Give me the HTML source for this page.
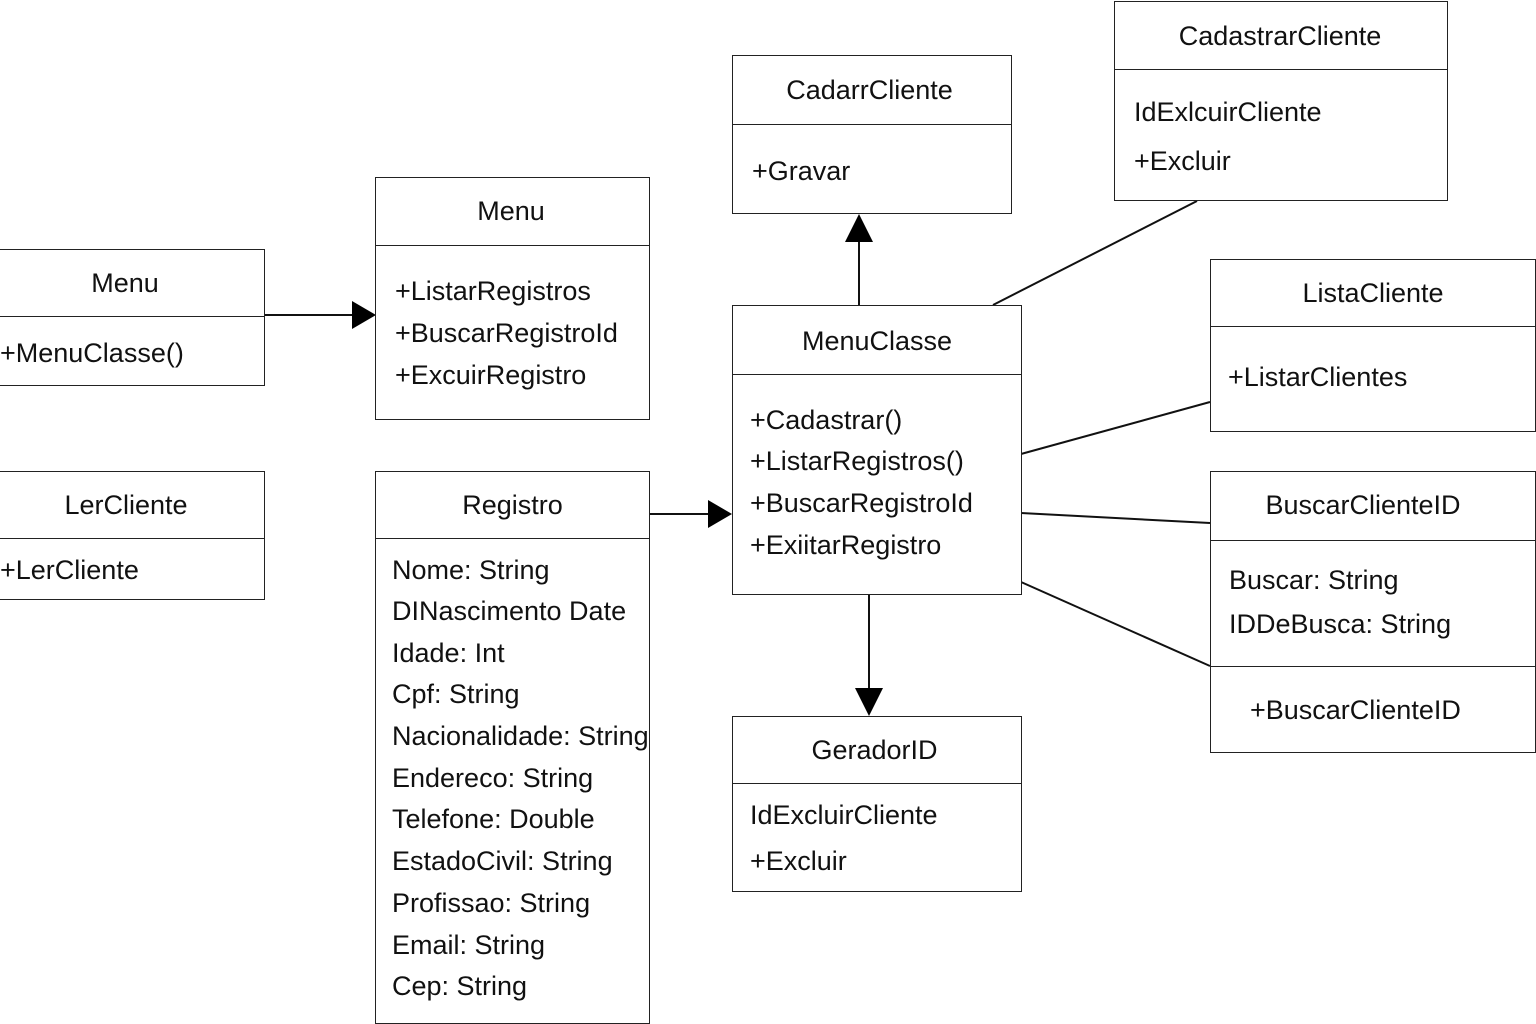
<!DOCTYPE html>
<html><head><meta charset="utf-8"><style>
html,body{margin:0;padding:0;background:#fff;}
body{width:1536px;height:1024px;position:relative;overflow:hidden;font-family:"Liberation Sans",sans-serif;color:#111;}
.b{position:absolute;border:1.5px solid #222;box-sizing:border-box;background:#fff;}
.d{position:absolute;left:0;right:0;border-top:1.5px solid #222;}
.t{position:absolute;font-size:27px;white-space:nowrap;line-height:1;}
.c{left:0;right:0;text-align:center;}
svg{position:absolute;left:0;top:0;}
</style></head><body>
<svg width="1536" height="1024">
<g stroke="#111" stroke-width="2" fill="none">
<line x1="264" y1="315" x2="356" y2="315"/>
<line x1="649" y1="514" x2="710" y2="514"/>
<line x1="859" y1="305" x2="859" y2="242"/>
<line x1="869" y1="594" x2="869" y2="688"/>
<line x1="993" y1="305" x2="1197" y2="201"/>
<line x1="1021" y1="454" x2="1210" y2="402"/>
<line x1="1021" y1="513" x2="1210" y2="523"/>
<line x1="1021" y1="582" x2="1210" y2="666"/>
</g>
<g fill="#000">
<polygon points="352,301 376,315 352,329"/>
<polygon points="708,500 732,514 708,528"/>
<polygon points="845,242 859,214 873,242"/>
<polygon points="855,688 883,688 869,716"/>
</g>
</svg>

<div class="b" style="left:-2px;top:249px;width:267px;height:137px"><div class="d" style="top:66px"></div></div>
<div class="t c" style="left:0;width:250px;top:270px">Menu</div>
<div class="t" style="left:0;top:340px">+MenuClasse()</div>

<div class="b" style="left:-2px;top:471px;width:267px;height:129px"><div class="d" style="top:66px"></div></div>
<div class="t c" style="left:0;width:252px;top:492px">LerCliente</div>
<div class="t" style="left:0;top:557px">+LerCliente</div>

<div class="b" style="left:375px;top:177px;width:275px;height:243px"><div class="d" style="top:67px"></div></div>
<div class="t c" style="left:375px;width:272px;top:198px">Menu</div>
<div class="t" style="left:395px;top:278px">+ListarRegistros</div>
<div class="t" style="left:395px;top:320px">+BuscarRegistroId</div>
<div class="t" style="left:395px;top:362px">+ExcuirRegistro</div>

<div class="b" style="left:375px;top:471px;width:275px;height:553px"><div class="d" style="top:66px"></div></div>
<div class="t c" style="left:375px;width:275px;top:492px">Registro</div>
<div style="position:absolute;left:392px;top:0;width:256px;height:1024px;overflow:hidden">
<div class="t" style="left:0;top:557px">Nome: String</div>
<div class="t" style="left:0;top:598px">DINascimento Date</div>
<div class="t" style="left:0;top:640px">Idade: Int</div>
<div class="t" style="left:0;top:681px">Cpf: String</div>
<div class="t" style="left:0;top:723px">Nacionalidade: String</div>
<div class="t" style="left:0;top:765px">Endereco: String</div>
<div class="t" style="left:0;top:806px">Telefone: Double</div>
<div class="t" style="left:0;top:848px">EstadoCivil: String</div>
<div class="t" style="left:0;top:890px">Profissao: String</div>
<div class="t" style="left:0;top:932px">Email: String</div>
<div class="t" style="left:0;top:973px">Cep: String</div>
</div>

<div class="b" style="left:732px;top:55px;width:280px;height:159px"><div class="d" style="top:68px"></div></div>
<div class="t c" style="left:732px;width:275px;top:77px">CadarrCliente</div>
<div class="t" style="left:752px;top:158px">+Gravar</div>

<div class="b" style="left:732px;top:305px;width:290px;height:290px"><div class="d" style="top:68px"></div></div>
<div class="t c" style="left:732px;width:290px;top:328px">MenuClasse</div>
<div class="t" style="left:750px;top:407px">+Cadastrar()</div>
<div class="t" style="left:750px;top:448px">+ListarRegistros()</div>
<div class="t" style="left:750px;top:490px">+BuscarRegistroId</div>
<div class="t" style="left:750px;top:532px">+ExiitarRegistro</div>

<div class="b" style="left:732px;top:716px;width:290px;height:176px"><div class="d" style="top:66px"></div></div>
<div class="t c" style="left:732px;width:285px;top:737px">GeradorID</div>
<div class="t" style="left:750px;top:802px">IdExcluirCliente</div>
<div class="t" style="left:750px;top:848px">+Excluir</div>

<div class="b" style="left:1114px;top:1px;width:334px;height:200px"><div class="d" style="top:67px"></div></div>
<div class="t c" style="left:1114px;width:332px;top:23px">CadastrarCliente</div>
<div class="t" style="left:1134px;top:99px">IdExlcuirCliente</div>
<div class="t" style="left:1134px;top:148px">+Excluir</div>

<div class="b" style="left:1210px;top:259px;width:326px;height:173px"><div class="d" style="top:66px"></div></div>
<div class="t c" style="left:1210px;width:326px;top:280px">ListaCliente</div>
<div class="t" style="left:1228px;top:364px">+ListarClientes</div>

<div class="b" style="left:1210px;top:471px;width:326px;height:282px"><div class="d" style="top:68px"></div><div class="d" style="top:194px"></div></div>
<div class="t c" style="left:1210px;width:306px;top:492px">BuscarClienteID</div>
<div class="t" style="left:1229px;top:567px">Buscar: String</div>
<div class="t" style="left:1229px;top:611px">IDDeBusca: String</div>
<div class="t" style="left:1250px;top:697px">+BuscarClienteID</div>
</body></html>
